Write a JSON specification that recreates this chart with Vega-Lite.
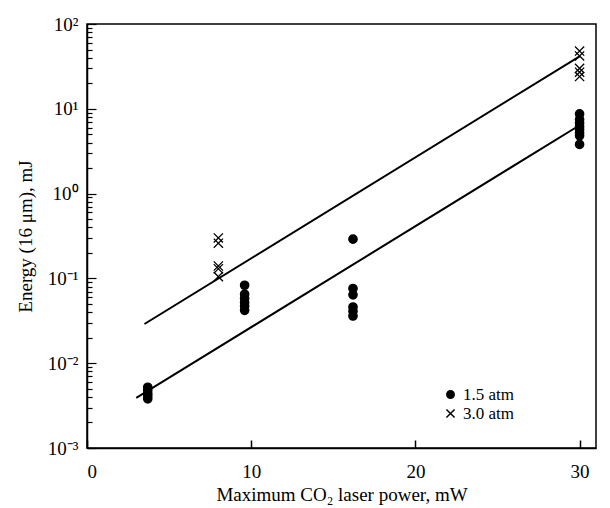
{
  "$schema": "https://vega.github.io/schema/vega-lite/v6.json",
  "width": 509,
  "height": 424,
  "autosize": {"type": "none"},
  "padding": {"left": 87, "top": 24, "right": 14, "bottom": 60},
  "background": "white",
  "config": {
    "view": {"stroke": "black", "strokeWidth": 1.5},
    "font": "Liberation Serif",
    "axis": {
      "grid": false,
      "domainColor": "black",
      "domainWidth": 1.5,
      "tickColor": "black",
      "labelColor": "black",
      "titleColor": "black",
      "labelFont": "Liberation Serif",
      "titleFont": "Liberation Serif",
      "labelFontSize": 19,
      "titleFontSize": 19,
      "titleFontWeight": "normal"
    },
    "legend": {
      "labelFont": "Liberation Serif",
      "labelFontSize": 17,
      "labelColor": "black",
      "symbolSize": 55,
      "symbolFillColor": "black",
      "labelOffset": 4,
      "rowPadding": 1
    }
  },
  "datasets": {
    "points": [
      {"power": 3.7, "energy": 0.0052, "series": "1.5 atm"},
      {"power": 3.7, "energy": 0.0048, "series": "1.5 atm"},
      {"power": 3.7, "energy": 0.0044, "series": "1.5 atm"},
      {"power": 3.7, "energy": 0.0041, "series": "1.5 atm"},
      {"power": 3.7, "energy": 0.0038, "series": "1.5 atm"},
      {"power": 9.6, "energy": 0.083, "series": "1.5 atm"},
      {"power": 9.6, "energy": 0.065, "series": "1.5 atm"},
      {"power": 9.6, "energy": 0.058, "series": "1.5 atm"},
      {"power": 9.6, "energy": 0.052, "series": "1.5 atm"},
      {"power": 9.6, "energy": 0.047, "series": "1.5 atm"},
      {"power": 9.6, "energy": 0.042, "series": "1.5 atm"},
      {"power": 16.2, "energy": 0.29, "series": "1.5 atm"},
      {"power": 16.2, "energy": 0.076, "series": "1.5 atm"},
      {"power": 16.2, "energy": 0.064, "series": "1.5 atm"},
      {"power": 16.2, "energy": 0.046, "series": "1.5 atm"},
      {"power": 16.2, "energy": 0.041, "series": "1.5 atm"},
      {"power": 16.2, "energy": 0.036, "series": "1.5 atm"},
      {"power": 30, "energy": 8.7, "series": "1.5 atm"},
      {"power": 30, "energy": 7.5, "series": "1.5 atm"},
      {"power": 30, "energy": 6.8, "series": "1.5 atm"},
      {"power": 30, "energy": 6.2, "series": "1.5 atm"},
      {"power": 30, "energy": 5.7, "series": "1.5 atm"},
      {"power": 30, "energy": 5.2, "series": "1.5 atm"},
      {"power": 30, "energy": 4.8, "series": "1.5 atm"},
      {"power": 30, "energy": 3.8, "series": "1.5 atm"},
      {"power": 8, "energy": 0.3, "series": "3.0 atm"},
      {"power": 8, "energy": 0.26, "series": "3.0 atm"},
      {"power": 8, "energy": 0.14, "series": "3.0 atm"},
      {"power": 8, "energy": 0.13, "series": "3.0 atm"},
      {"power": 8, "energy": 0.105, "series": "3.0 atm"},
      {"power": 30, "energy": 48, "series": "3.0 atm"},
      {"power": 30, "energy": 42, "series": "3.0 atm"},
      {"power": 30, "energy": 30, "series": "3.0 atm"},
      {"power": 30, "energy": 27, "series": "3.0 atm"},
      {"power": 30, "energy": 24, "series": "3.0 atm"}
    ],
    "fits": [
      {"power": 3, "energy": 0.0039, "series": "1.5 atm"},
      {"power": 30, "energy": 6.4, "series": "1.5 atm"},
      {"power": 3.5, "energy": 0.029, "series": "3.0 atm"},
      {"power": 30, "energy": 41.5, "series": "3.0 atm"}
    ]
  },
  "layer": [
    {
      "data": {"name": "fits"},
      "mark": {"type": "line", "color": "black", "strokeWidth": 2},
      "encoding": {
        "x": {"field": "power", "type": "quantitative", "scale": {"domain": [0, 31], "nice": false, "zero": false},
          "axis": {"title": "Maximum CO₂ laser power, mW", "values": [0, 10, 20, 30], "tickSize": -8, "tickWidth": 1.5, "labelPadding": 22, "titlePadding": 4}},
        "y": {"field": "energy", "type": "quantitative", "scale": {"type": "log", "domain": [0.001, 100], "nice": false},
          "axis": {"title": "Energy (16 μm), mJ", "titlePadding": 12,
            "values": [0.001,0.002,0.003,0.004,0.005,0.006,0.007,0.008,0.009,0.01,0.02,0.03,0.04,0.05,0.06,0.07,0.08,0.09,0.1,0.2,0.3,0.4,0.5,0.6,0.7,0.8,0.9,1,2,3,4,5,6,7,8,9,10,20,30,40,50,60,70,80,90,100],
            "tickSize": {"condition": {"test": "abs(log(datum.value)/LN10 - round(log(datum.value)/LN10)) < 1e-6", "value": -9}, "value": -5},
            "tickWidth": 1.2,
            "labelPadding": 18,
            "labelExpr": "abs(log(datum.value)/LN10 - round(log(datum.value)/LN10)) < 1e-6 ? (round(log(datum.value)/LN10) == 2 ? '10²' : round(log(datum.value)/LN10) == 1 ? '10¹' : round(log(datum.value)/LN10) == 0 ? '10⁰' : round(log(datum.value)/LN10) == -1 ? '10⁻¹' : round(log(datum.value)/LN10) == -2 ? '10⁻²' : '10⁻³') : ''"}},
        "detail": {"field": "series"}
      }
    },
    {
      "data": {"name": "points"},
      "mark": {"type": "point", "filled": true, "color": "black", "stroke": "black", "strokeWidth": 1.3, "opacity": 1, "size": 70},
      "encoding": {
        "x": {"field": "power", "type": "quantitative"},
        "y": {"field": "energy", "type": "quantitative"},
        "shape": {"field": "series", "type": "nominal", "title": null,
          "scale": {"domain": ["1.5 atm", "3.0 atm"], "range": ["circle", "M-1.1,-1.1L1.1,1.1M-1.1,1.1L1.1,-1.1"]},
          "legend": {"orient": "none", "legendX": 355, "legendY": 362, "direction": "vertical",
            "encode": {"symbols": {"update": {
              "stroke": {"value": "black"},
              "strokeWidth": {"value": 1.3},
              "opacity": {"value": 1},
              "fill": {"value": "black"},
              "fillOpacity": {"value": 1}}}}}}
      }
    }
  ]
}
